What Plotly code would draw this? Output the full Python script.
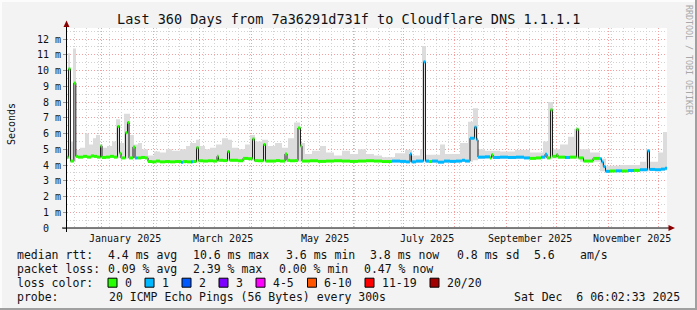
import plotly.graph_objects as go
import pandas as pd

START = pd.Timestamp("2024-12-11 06:02:33")
END = pd.Timestamp("2025-12-06 06:02:33")

# median RTT (ms) as a step series: day offset from START, value, lost pings (of 20)
med_day = [0.0, 0.9, 2.1, 4.1, 5.3, 6.6, 9.6, 12.0, 14.4, 16.2, 18.0, 20.1, 21.0, 23.4, 25.8, 28.2,
           30.3, 31.5, 32.4, 35.1, 36.3, 37.2, 39.6, 40.8, 42.3, 44.4, 46.8, 48.6, 51.0, 53.4, 55.8,
           58.8, 61.8, 64.8, 68.4, 69.6, 72.0, 74.4, 75.6, 77.7, 78.9, 81.6, 84.6, 87.6, 90.0, 90.9,
           93.6, 96.3, 97.5, 100.2, 102.6, 105.6, 108.6, 111.3, 112.5, 114.6, 117.9, 119.1, 125.4,
           127.8, 130.8, 132.0, 133.8, 136.8, 138.6, 140.1, 141.0, 145.8, 150.6, 155.4, 160.2, 165.0,
           169.8, 174.6, 179.4, 184.2, 189.0, 195.0, 199.8, 203.4, 205.8, 206.7, 209.4, 213.9, 215.1,
           217.2, 219.0, 222.6, 226.2, 229.8, 233.4, 237.0, 238.8, 241.8, 244.5, 245.7, 246.6, 250.8,
           253.8, 254.7, 255.6, 259.8, 264.6, 269.4, 274.2, 277.8, 281.4, 284.4, 286.8, 288.0, 290.1,
           291.3, 293.7, 294.6, 298.8, 301.8, 305.7, 306.9, 309.9, 315.6, 319.8, 320.7, 321.8, 323.1,
           325.8, 329.4, 333.0, 336.6, 340.2, 343.8, 348.3, 349.5, 352.8, 356.4, 358.8, 360.0]
med_ms = [4.50, 10.1, 4.25, 9.2, 4.55, 4.50, 4.55, 4.50, 4.58, 4.55, 4.50, 5.20, 4.48, 4.50, 4.55, 4.50,
          6.45, 4.75, 4.45, 6.05, 6.70, 4.45, 5.15, 4.45, 4.45, 4.48, 4.45, 4.22, 4.20, 4.25, 4.20,
          4.22, 4.20, 4.22, 4.18, 4.22, 4.20, 4.20, 4.22, 5.10, 4.27, 4.25, 4.27, 4.25, 4.55, 4.30,
          4.28, 4.85, 4.30, 4.30, 4.27, 4.42, 4.40, 5.65, 4.28, 4.27, 5.30, 4.25, 4.28,
          4.25, 4.70, 4.30, 4.27, 4.28, 6.35, 5.20, 4.25, 4.27, 4.23, 4.25, 4.27, 4.25,
          4.23, 4.25, 4.27, 4.25, 4.22, 4.25, 4.23, 4.20, 4.70, 4.20, 4.25, 10.55, 4.25,
          4.22, 4.25, 4.18, 4.25, 4.23, 4.25, 4.30, 4.25, 5.70, 6.40, 5.60, 4.50, 4.52,
          4.45, 4.65, 4.48, 4.50, 4.48, 4.50, 4.45, 4.42, 4.45, 4.50, 4.68, 4.45, 7.50,
          4.55, 4.65, 4.50, 4.48, 4.50, 6.27, 4.45, 4.25, 4.42, 4.40, 4.20, 3.90, 3.60,
          3.62, 3.63, 3.62, 3.65, 3.66, 3.70, 4.90, 3.72, 3.70, 3.74, 3.80, 3.80]
med_loss = [0, 0, 0, 0, 0, 0, 0, 0, 0, 0, 0, 0, 0, 0, 0, 0,
            0, 0, 0, 0, 0, 0, 0, 1, 0, 0, 0, 0, 0, 0, 0,
            0, 0, 0, 1, 0, 0, 1, 0, 0, 0, 0, 0, 0, 0, 0,
            0, 0, 0, 0, 0, 0, 0, 0, 0, 0, 0, 0, 0,
            0, 0, 0, 0, 0, 0, 0, 0, 0, 0, 0, 0, 0,
            0, 0, 0, 0, 0, 1, 1, 1, 1, 1, 1, 1, 1,
            0, 1, 1, 1, 1, 1, 1, 1, 1, 1, 1, 1, 1,
            0, 0, 1, 1, 1, 1, 1, 0, 0, 1, 1, 0, 0,
            0, 0, 0, 1, 0, 0, 0, 0, 0, 1, 1, 1, 1,
            0, 1, 0, 1, 0, 1, 1, 1, 1, 1, 1, 1]

# smoke (spread of the 20 pings): day offset, lowest and highest RTT (ms)
smoke_day = [0.0, 0.6, 1.8, 3.6, 5.4, 7.8, 10.8, 13.2, 15.6, 17.4, 19.8, 21.6, 24.0, 27.0, 29.4, 31.8,
             34.2, 37.8, 40.2, 42.6, 45.0, 48.6, 52.2, 55.8, 59.4, 63.0, 67.8, 71.4, 73.8, 77.4, 79.8,
             82.8, 85.8, 89.4, 93.0, 96.6, 99.0, 102.6, 106.8, 109.8, 112.8, 117.0, 120.6, 124.8,
             129.0, 132.6, 136.2, 139.8, 142.8, 147.0, 151.8, 155.4, 160.2, 165.0, 169.8, 174.6,
             179.4, 184.2, 189.0, 196.8, 202.8, 207.0, 211.8, 213.0, 215.4, 223.8, 226.8, 235.8,
             240.6, 243.6, 246.6, 250.8, 259.8, 268.8, 277.8, 285.6, 288.6, 291.6, 295.8, 300.6,
             304.2, 307.8, 313.8, 319.8, 323.4, 331.8, 343.8, 347.4, 349.8, 354.6, 357.6, 360.0]
smoke_lo = [4.40, 4.40, 4.20, 4.20, 4.45, 4.45, 4.45, 4.45, 4.45, 4.45, 4.45, 4.45, 4.45, 4.45, 4.45, 4.40,
            4.40, 4.40, 4.40, 4.40, 4.40, 4.15, 4.15, 4.15, 4.15, 4.15, 4.10, 4.15, 4.15, 4.20, 4.20,
            4.20, 4.20, 4.20, 4.20, 4.25, 4.20, 4.20, 4.35, 4.30, 4.20, 4.20, 4.20, 4.20,
            4.20, 4.20, 4.20, 4.20, 4.20, 4.20, 4.18, 4.20, 4.20, 4.20, 4.18, 4.20,
            4.20, 4.20, 4.18, 4.18, 4.15, 4.15, 4.15, 4.20, 4.15, 4.12, 4.15, 4.20,
            4.20, 4.30, 4.40, 4.40, 4.40, 4.38, 4.36, 4.40, 4.40, 4.42, 4.42, 4.42,
            4.40, 4.20, 4.20, 3.60, 3.55, 3.55, 3.60, 3.60, 3.65, 3.65, 3.65, 3.65]
smoke_hi = [5.00, 11.1, 5.50, 11.4, 4.95, 5.10, 6.00, 5.30, 5.70, 5.90, 5.30, 5.10, 5.20, 5.50, 6.90, 5.40,
            7.25, 5.90, 5.30, 5.40, 5.00, 4.60, 4.85, 4.80, 5.00, 4.90, 5.00, 5.20, 5.40, 5.60, 5.20,
            5.00, 5.10, 5.30, 5.70, 5.60, 5.10, 5.00, 5.30, 5.90, 5.50, 5.60, 5.20, 5.40,
            5.10, 5.70, 6.70, 5.40, 4.70, 4.90, 5.20, 4.80, 4.60, 4.90, 4.70, 5.00,
            4.70, 4.60, 4.50, 4.75, 4.95, 4.60, 5.00, 11.55, 4.65, 5.30, 4.70, 5.40,
            6.75, 7.60, 5.00, 4.90, 4.85, 4.95, 4.80, 5.50, 8.00, 5.00, 5.30, 5.80,
            6.30, 5.00, 4.80, 4.40, 3.95, 4.00, 4.20, 5.00, 4.20, 4.80, 6.10, 6.10]

y_tick_vals = list(range(13))
y_tick_text = ["0\u00a0\u00a0"] + [f"{v} m" for v in range(1, 13)]
month_starts = [f"2025-{m:02d}-01" for m in range(1, 13)]
month_label_dates = ["2025-01-15", "2025-03-15", "2025-05-15", "2025-07-15", "2025-09-15", "2025-11-15"]
month_label_text = ["January 2025", "March 2025", "May 2025", "July 2025", "September 2025", "November 2025"]

loss_names = ["0", "1", "2", "3", "4-5", "6-10", "11-19", "20/20"]
loss_colors = ["#26ff00", "#00b8ff", "#0059ff", "#7e00ff", "#ff00ff", "#ff5500", "#ff0000", "#a00000"]

median_stats = ["4.4 ms avg", "10.6 ms max", "3.6 ms min", "3.8 ms now", "0.8 ms sd", "5.6", "am/s"]
loss_stats = ["0.09 % avg", "2.39 % max", "0.00 % min", "0.47 % now"]
probe_text = "20 ICMP Echo Pings (56 Bytes) every 300s"
stamp_text = "Sat Dec\u00a0\u00a06 06:02:33 2025"
title_text = "Last 360 Days from 7a36291d731f to Cloudflare DNS 1.1.1.1"

# ---- layout geometry (pixels) ----
W, H = 697, 310
PL, PT, PW, PH = 67, 28, 600, 200
FONT = "DejaVu Sans Mono"


def xp(px):
    return (px - PL) / PW


def yp(py):
    return (PT + PH - py) / PH


t_med = [START + pd.Timedelta(days=d) for d in med_day]
t_smk = [START + pd.Timedelta(days=d) for d in smoke_day]

fig = go.Figure()
fig.add_trace(go.Scatter(x=t_smk, y=smoke_lo, mode="lines", line=dict(width=0, shape="hv"),
                         hoverinfo="skip", showlegend=False))
fig.add_trace(go.Scatter(x=t_smk, y=smoke_hi, mode="lines", line=dict(width=0, shape="hv"),
                         fill="tonexty", fillcolor="#dcdcdc", hoverinfo="skip", showlegend=False))
fig.add_trace(go.Scatter(x=t_med, y=med_ms, mode="lines",
                         line=dict(color="#202020", width=1, shape="hv"), showlegend=False))

# colored median band by loss
for lvl, col in enumerate(loss_colors):
    sx, sy = [], []
    for k in range(len(med_day) - 1):
        if med_loss[k] == lvl:
            sx += [t_med[k], t_med[k + 1], None]
            sy += [med_ms[k], med_ms[k], None]
    if sx:
        fig.add_trace(go.Scatter(x=sx, y=sy, mode="lines", line=dict(color=col, width=3),
                                 showlegend=False))

grid_major = "#f2a0a0"
grid_minor = "#d2d2d2"
dash = "1px,2px"

fig.update_layout(
    width=W, height=H,
    margin=dict(l=PL, r=W - PL - PW, t=PT, b=H - PT - PH),
    paper_bgcolor="#f3f3f3", plot_bgcolor="#ffffff",
    showlegend=False,
    font=dict(family=FONT, color="#111111"),
    xaxis=dict(type="date", range=[START, END], tickvals=month_starts, showticklabels=False,
               ticks="", showgrid=True, gridcolor=grid_major, griddash=dash, gridwidth=1,
               minor=dict(tick0="2024-12-16", dtick=7 * 86400000, showgrid=True,
                          gridcolor=grid_minor, griddash=dash, gridwidth=1),
               showline=False, zeroline=False, fixedrange=True),
    yaxis=dict(range=[0, 12.7], tickvals=y_tick_vals, ticktext=y_tick_text, ticks="outside",
               ticklen=3, tickcolor="#999999", tickfont=dict(size=10, family=FONT, color="#111111"),
               showgrid=True, gridcolor=grid_major, griddash=dash, gridwidth=1,
               minor=dict(dtick=0.5, showgrid=True, gridcolor=grid_minor, griddash=dash, gridwidth=1),
               showline=False, zeroline=False, fixedrange=True),
)

shapes = []
# axis lines
shapes.append(dict(type="line", xref="paper", yref="paper", x0=xp(62), x1=xp(669), y0=yp(228), y1=yp(228),
                   line=dict(color="#000000", width=1)))
shapes.append(dict(type="line", xref="paper", yref="paper", x0=xp(66.5), x1=xp(66.5), y0=yp(232), y1=yp(25),
                   line=dict(color="#000000", width=1)))
# arrows
def path(points):
    return "M " + " L ".join(f"{xp(a):.5f},{yp(b):.5f}" for a, b in points) + " Z"

shapes.append(dict(type="path", xref="paper", yref="paper", path=path([(63.5, 27), (69.5, 27), (66.5, 20.5)]),
                   fillcolor="#8b0000", line=dict(width=0)))
shapes.append(dict(type="path", xref="paper", yref="paper", path=path([(668.5, 225), (668.5, 231), (675, 228)]),
                   fillcolor="#8b0000", line=dict(width=0)))
# frame
shapes.append(dict(type="line", xref="paper", yref="paper", x0=xp(0), x1=xp(W), y0=yp(H - 1), y1=yp(H - 1),
                   line=dict(color="#a0a0a0", width=2)))
shapes.append(dict(type="line", xref="paper", yref="paper", x0=xp(W - 1), x1=xp(W - 1), y0=yp(0), y1=yp(H),
                   line=dict(color="#a0a0a0", width=2)))
shapes.append(dict(type="line", xref="paper", yref="paper", x0=xp(0), x1=xp(W - 2), y0=yp(1), y1=yp(1),
                   line=dict(color="#fcfcfc", width=2)))
shapes.append(dict(type="line", xref="paper", yref="paper", x0=xp(1), x1=xp(1), y0=yp(H - 2), y1=yp(0),
                   line=dict(color="#fcfcfc", width=2)))

ann = []


def txt(x, y, s, anchor="left", size=11.5, color="#111111", angle=0, yanchor="middle"):
    ann.append(dict(xref="paper", yref="paper", x=xp(x), y=yp(y), text=s, showarrow=False,
                    xanchor=anchor, yanchor=yanchor, textangle=angle, borderpad=0,
                    font=dict(family=FONT, size=size, color=color)))


txt(348, 19, title_text, anchor="center", size=13.5)
txt(11, 124, "Seconds", anchor="center", size=10, angle=-90)
txt(689, 60, "RRDTOOL / TOBI OETIKER", anchor="center", size=8.3, color="#a8a8a8", angle=90)

for d, s in zip(month_label_dates, month_label_text):
    ann.append(dict(xref="x", yref="paper", x=d, y=yp(238.5), text=s, showarrow=False,
                    xanchor="center", yanchor="middle", borderpad=0,
                    font=dict(family=FONT, size=10, color="#111111")))

# legend rows
row_y = [254.7, 268.7, 282.7, 296.5]
txt(16, row_y[0], "median rtt:")
for x, s in zip([107, 192, 285, 369, 456, 533, 579], median_stats):
    txt(x, row_y[0], s)
txt(16, row_y[1], "packet loss:")
for x, s in zip([107, 192, 278, 363], loss_stats):
    txt(x, row_y[1], s)
txt(16, row_y[2], "loss color:")
for x, s, c in zip([108, 145, 182, 219, 256, 307.5, 365, 430], loss_names, loss_colors):
    shapes.append(dict(type="rect", xref="paper", yref="paper", x0=xp(x), x1=xp(x + 9),
                       y0=yp(row_y[2] + 4.5), y1=yp(row_y[2] - 4.5), fillcolor=c,
                       line=dict(color="#000000", width=1)))
    txt(x + 15.5, row_y[2], s)
txt(16, row_y[3], "probe:")
txt(108, row_y[3], probe_text)
txt(681, row_y[3], stamp_text, anchor="right")

fig.update_layout(shapes=shapes, annotations=ann)
fig.write_html("out.html")
